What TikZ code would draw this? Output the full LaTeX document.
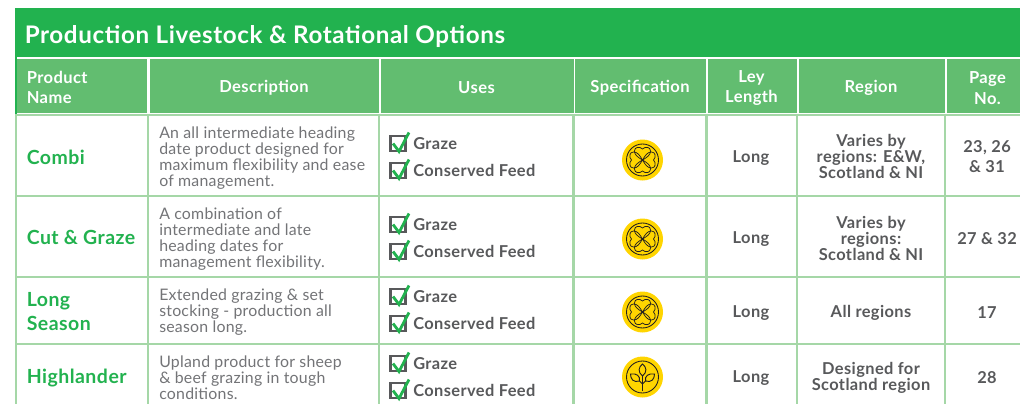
\documentclass[tikz,border=0pt]{standalone}
\usepackage{fontspec}
\setmainfont{Lato}
\newfontfamily\lbold[LetterSpace=2.5]{Lato Bold}
\newfontfamily\ltitle[LetterSpace=2.5]{Lato Bold}
\newfontfamily\lreg[LetterSpace=1.5]{Lato}
\definecolor{tgreen}{HTML}{22B24F}
\definecolor{hgreen}{HTML}{62BD70}
\definecolor{lgreen}{HTML}{A5D7A7}
\definecolor{dgray}{HTML}{58595B}
\definecolor{mgray}{HTML}{737477}
\definecolor{gold}{HTML}{FFD500}
\definecolor{inkc}{HTML}{231F20}
\tikzset{
  x=0.75pt,y=-0.75pt,
  titletext/.style={anchor=west,text=white,font=\ltitle\fontsize{18.15}{20}\selectfont,inner sep=0},
  headbox/.style={fill=hgreen,draw=none,inner sep=0,anchor=north west,text=white,align=center,font=\lbold\fontsize{12.4}{15.5}\selectfont},
  headleft/.style={anchor=west,inner sep=0,text=white,align=left,font=\lbold\fontsize{12.4}{15.5}\selectfont},
  prodname/.style={anchor=west,inner sep=0,text=tgreen,align=left,font=\lbold\fontsize{14.6}{17.5}\selectfont},
  desctext/.style={anchor=west,inner sep=0,text=mgray,align=left,font=\lreg\fontsize{11.9}{12}\selectfont},
  usetext/.style={anchor=west,inner sep=0,text=dgray,font=\lbold\fontsize{12.3}{12}\selectfont},
  celltext/.style={anchor=center,inner sep=0,text=dgray,align=center,font=\lbold\fontsize{12.3}{12}\selectfont},
  gridline/.style={draw=lgreen,line width=1.9pt},
  pics/chk/.style={code={
    \draw[dgray,line width=2pt] (-7.5,-7.5) rectangle (7.5,7.5);
    \draw[tgreen,line width=2.1pt] (-5,0) -- (1,8) -- (11,-11);
  }},
  pics/clover/.style={code={
    \fill[gold] (0,0) circle (20.5);
    \draw[inkc,line width=0.65pt] (0,0) circle (16);
    \foreach \a in {0,90,180,270}{
      \draw[inkc,line width=0.55pt,rotate=\a,line join=round] (0,0) .. controls (3,-5) and (5,-8) .. (9,-8)
        .. controls (13,-8) and (14,-3) .. (11,0)
        .. controls (14,3) and (13,8) .. (9,8)
        .. controls (5,8) and (3,5) .. (0,0);
    }
  }},
  pics/sprout/.style={code={
    \fill[gold] (0,0) circle (20.5);
    \draw[inkc,line width=0.65pt] (0,0) circle (16);
    \draw[inkc,line width=1.1pt] (0,14) -- (0,-1);
    \draw[inkc,line width=0.7pt] (0,-1) .. controls (-5,-5) and (-4,-10) .. (0,-13) .. controls (4,-10) and (5,-5) .. (0,-1);
    \draw[inkc,line width=0.7pt] (0,7) -- (-3,4) .. controls (-9,6) and (-12,2) .. (-12,-3) .. controls (-6,-4) and (-2,-1) .. (-3,4);
    \draw[inkc,line width=0.7pt] (0,7) -- (3,4) .. controls (9,6) and (12,2) .. (12,-3) .. controls (6,-4) and (2,-1) .. (3,4);
  }}
}
\begin{document}
\begin{tikzpicture}
\useasboundingbox (0,0) rectangle (1020,404);
\fill[white] (0,0) rectangle (1020,404);
% title band
\fill[tgreen] (15,8) rectangle (1020,57);
\node[titletext] (title) at (24.5,36.5) {Production Livestock \& Rotational Options};
% header cells
\fill[tgreen] (15,57) rectangle (17,114);
\node[headbox,minimum width=130*0.75pt,minimum height=54*0.75pt] (h1) at (17,59) {};
\node[headbox,minimum width=229*0.75pt,minimum height=54*0.75pt] (h2) at (149.5,59) {};
\node[headbox,minimum width=193*0.75pt,minimum height=54*0.75pt] (h3) at (380.5,59) {};
\node[headbox,minimum width=131*0.75pt,minimum height=54*0.75pt] (h4) at (575,59) {};
\node[headbox,minimum width=88.5*0.75pt,minimum height=54*0.75pt] (h5) at (708,59) {};
\node[headbox,minimum width=146*0.75pt,minimum height=54*0.75pt] (h6) at (798.5,59) {};
\node[headbox,minimum width=74*0.75pt,minimum height=54*0.75pt] (h7) at (946.5,59) {};
\node[headleft] (h1t) at (26.5,87.5) {Product\\Name};
\node[headleft,anchor=center,align=center] (h2t) at (264,88) {Description};
\node[headleft,anchor=center,align=center] (h3t) at (476.5,88) {Uses};
\node[headleft,anchor=center,align=center] (h4t) at (640,88) {Specification};
\node[headleft,anchor=center,align=center] (h5t) at (751.5,88) {Ley\\Length};
\node[headleft,anchor=center,align=center] (h6t) at (871,88) {Region};
\node[headleft,anchor=center,align=center] (h7t) at (987.5,88) {Page\\No.};
% grid
\foreach \yy in {115,196,277,344} \draw[gridline] (15,\yy) -- (1020,\yy);
\foreach \xx in {16,148,379,573.5,706.5,797,945} \draw[gridline] (\xx,114) -- (\xx,404);
% product names
\node[prodname] (p1) at (26.5,157) {Combi};
\node[prodname] (p2) at (26.5,237.5) {Cut \& Graze};
\node[prodname] (p3) at (26.5,311.5) {Long\\Season};
\node[prodname] (p4) at (26.5,378.5) {Highlander};
% descriptions
\node[desctext] (d1) at (159,158) {An all intermediate heading\\date product designed for\\maximum flexibility and ease\\of management.};
\node[desctext] (d2) at (159,239) {A combination of\\intermediate and late\\heading dates for\\management flexibility.};
\node[desctext] (d3) at (159,312.5) {Extended grazing \& set\\stocking - production all\\season long.};
\node[desctext] (d4) at (159,378) {Upland product for sheep\\\& beef grazing in tough\\conditions.};
% uses
\foreach \r/\o in {1/0,2/81,3/153,4/220}{
  \pic at (398,143.5+\o) {chk};
  \pic at (398,170.5+\o) {chk};
  \node[usetext] (ug\r) at (413,144+\o) {Graze};
  \node[usetext] (uc\r) at (413,170+\o) {Conserved Feed};
}
% spec icons
\pic at (642.5,160) {clover};
\pic at (642.5,239) {clover};
\pic at (642.5,312) {clover};
\pic at (642.5,377) {sprout};
% ley length
\node[celltext] (l1) at (751,158.5) {Long};
\node[celltext] (l2) at (751,239.5) {Long};
\node[celltext] (l3) at (751,313) {Long};
\node[celltext] (l4) at (751,378) {Long};
% region
\node[celltext] (r1) at (871,156.5) {Varies by\\regions: E\&W,\\Scotland \& NI};
\node[celltext] (r2) at (871,238) {Varies by\\regions:\\Scotland \& NI};
\node[celltext] (r3) at (871,313) {All regions};
\node[celltext] (r4) at (871,378) {Designed for\\Scotland region};
% pages
\node[celltext,font=\lbold\fontsize{12.3}{14.5}\selectfont] (g1) at (987,156.5) {23, 26\\\& 31};
\node[celltext] (g2) at (987,239) {27 \& 32};
\node[celltext] (g3) at (987,313) {17};
\node[celltext] (g4) at (987,378) {28};
\end{tikzpicture}
\end{document}
